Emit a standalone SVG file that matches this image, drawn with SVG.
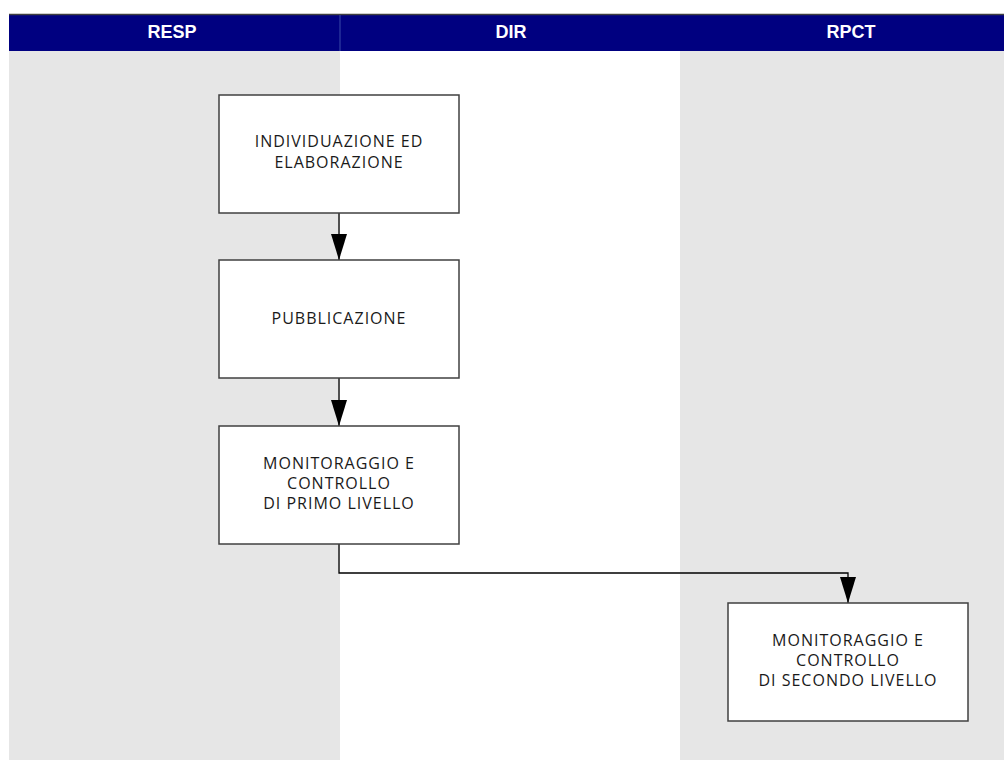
<svg xmlns="http://www.w3.org/2000/svg" width="1004" height="760" viewBox="0 0 1004 760">
<defs>
<marker id="arr" viewBox="0 0 26 16" refX="26" refY="8" markerWidth="26" markerHeight="16" markerUnits="userSpaceOnUse" orient="auto">
<path d="M0,0 L26,8 L0,16 Z" fill="#000"/>
</marker>
<style>
.lane-g{fill:#e6e6e6}
.lane-w{fill:#ffffff}
.hdr{fill:#000080}
.htxt{font-family:"Liberation Sans Narrow","Liberation Sans",Arial,sans-serif;font-weight:bold;font-size:18px;fill:#ffffff;text-anchor:middle}
.box{fill:#ffffff;stroke:#404040;stroke-width:1.5}
.btxt{font-family:"Open Sans","Liberation Sans",sans-serif;font-size:16px;letter-spacing:1px;fill:#1a1a1a;text-anchor:middle}
.conn{fill:none;stroke:#000;stroke-width:1.3}
</style>
</defs>
<rect x="0" y="0" width="1004" height="760" fill="#ffffff"/>
<g id="lanes">
<rect class="lane-g" x="9" y="51" width="331" height="709"/>
<rect class="lane-w" x="340" y="51" width="340" height="709"/>
<rect class="lane-g" x="680" y="51" width="324" height="709"/>
</g>
<g id="header">
<rect class="hdr" x="9" y="14" width="995" height="37"/>
<line x1="9" y1="14.5" x2="1004" y2="14.5" stroke="#404040" stroke-width="1.5"/>
<line x1="340" y1="15" x2="340" y2="51" stroke="#3a4aa8" stroke-width="1"/>
<text class="htxt" x="172" y="38">RESP</text>
<text class="htxt" x="511" y="38">DIR</text>
<text class="htxt" x="851" y="38">RPCT</text>
</g>
<g id="connectors">
<line class="conn" x1="339" y1="213" x2="339" y2="260" marker-end="url(#arr)"/>
<line class="conn" x1="339" y1="378" x2="339" y2="426" marker-end="url(#arr)"/>
<path class="conn" d="M339,544 L339,573 L848,573 L848,603" marker-end="url(#arr)"/>
</g>
<g id="node1">
<rect class="box" x="219" y="95" width="240" height="118"/>
<text class="btxt" x="339" y="147">INDIVIDUAZIONE ED</text>
<text class="btxt" x="339" y="168">ELABORAZIONE</text>
</g>
<g id="node2">
<rect class="box" x="219" y="260" width="240" height="118"/>
<text class="btxt" x="339" y="324">PUBBLICAZIONE</text>
</g>
<g id="node3">
<rect class="box" x="219" y="426" width="240" height="118"/>
<text class="btxt" x="339" y="469">MONITORAGGIO E</text>
<text class="btxt" x="339" y="489">CONTROLLO</text>
<text class="btxt" x="339" y="509">DI PRIMO LIVELLO</text>
</g>
<g id="node4">
<rect class="box" x="728" y="603" width="240" height="118"/>
<text class="btxt" x="848" y="646">MONITORAGGIO E</text>
<text class="btxt" x="848" y="666">CONTROLLO</text>
<text class="btxt" x="848" y="686">DI SECONDO LIVELLO</text>
</g>
</svg>
